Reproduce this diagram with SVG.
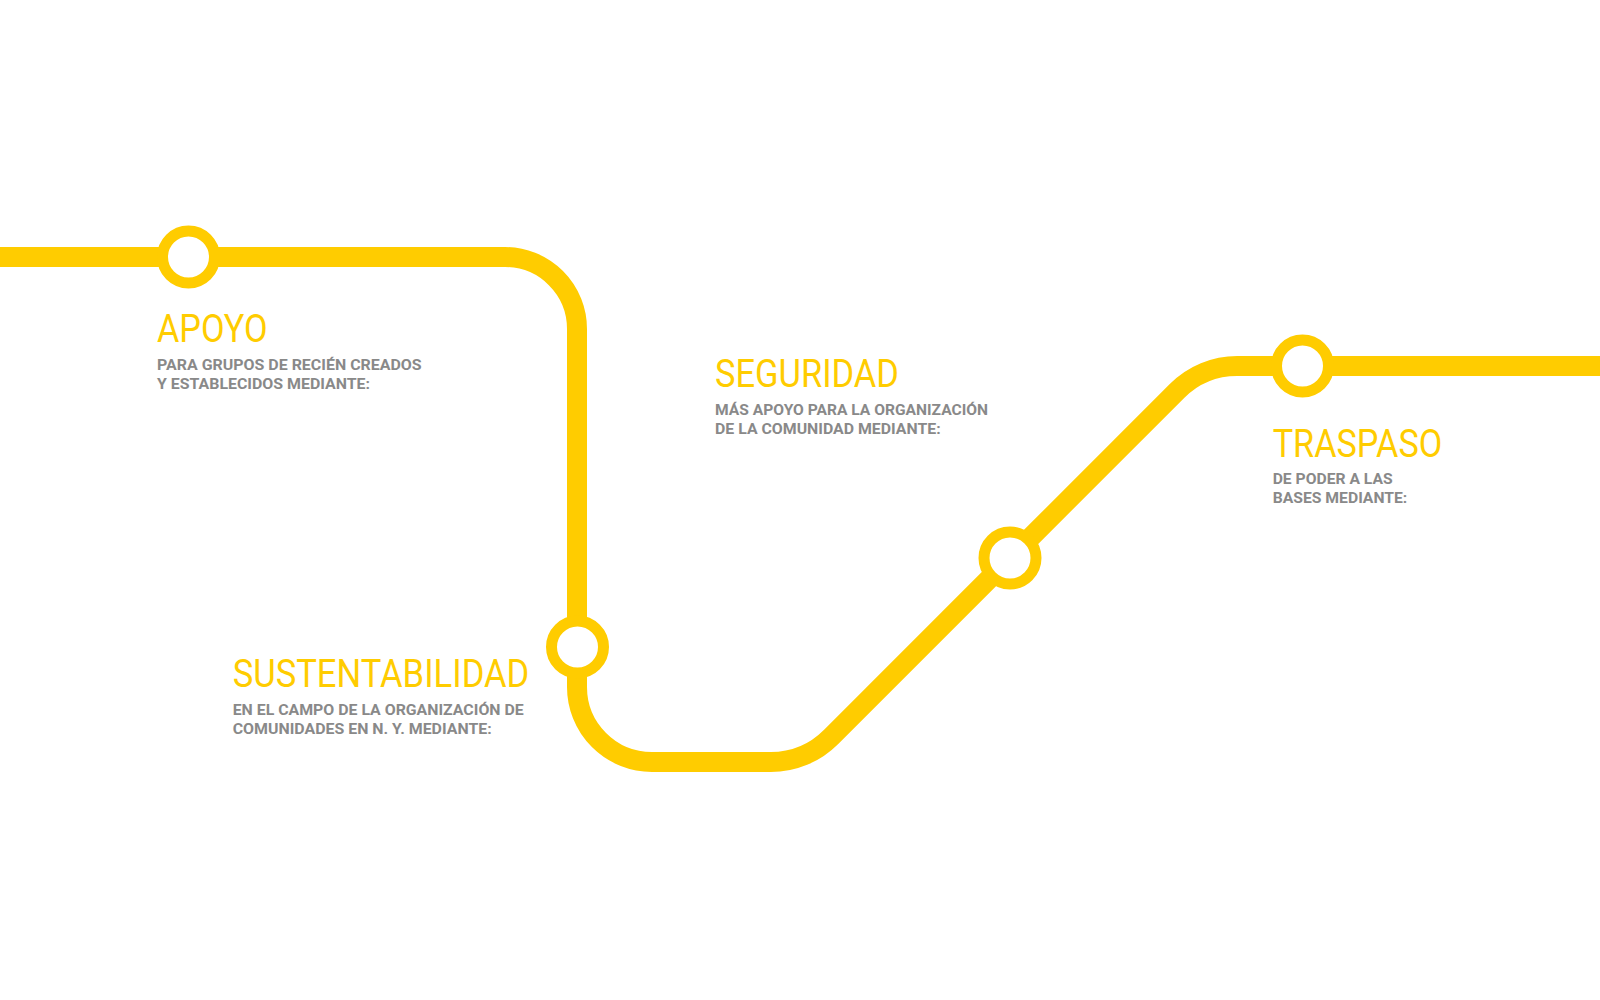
<svg xmlns="http://www.w3.org/2000/svg" width="1600" height="1000" viewBox="0 0 1600 1000">
<style>
.line{fill:none;stroke:#FFCC00;stroke-width:20}
.stop{fill:#FFFFFF;stroke:#FFCC00;stroke-width:11}
.title{font-family:Roboto,"Liberation Sans",sans-serif;font-weight:400;font-size:38.5px;fill:#FFCC00}
.sub{font-family:Roboto,"Liberation Sans",sans-serif;font-weight:700;font-size:15px;fill:#898989}
</style>
<rect width="1600" height="1000" fill="#FFFFFF"/>
<g id="connectors">
<path class="line" d="M0,257 H505 A72,72 0 0 1 577,329 V687 A75,75 0 0 0 652,762 H770.8 A85,85 0 0 0 830.9,737.1 L1177.1,390.9 A85,85 0 0 1 1237.2,366 H1600"/>
</g>
<g id="node-apoyo">
<circle class="stop" cx="188.5" cy="257" r="26"/>
<text class="title" x="157" y="341.7" textLength="110.5" lengthAdjust="spacingAndGlyphs">APOYO</text>
<text class="sub" x="157" y="370" textLength="264.7" lengthAdjust="spacingAndGlyphs">PARA GRUPOS DE RECIÉN CREADOS</text>
<text class="sub" x="157" y="389" textLength="213" lengthAdjust="spacingAndGlyphs">Y ESTABLECIDOS MEDIANTE:</text>
</g>
<g id="node-sustentabilidad">
<circle class="stop" cx="577.5" cy="647" r="26"/>
<text class="title" x="232.7" y="687.3" textLength="296.6" lengthAdjust="spacingAndGlyphs">SUSTENTABILIDAD</text>
<text class="sub" x="232.7" y="715" textLength="291" lengthAdjust="spacingAndGlyphs">EN EL CAMPO DE LA ORGANIZACIÓN DE</text>
<text class="sub" x="232.7" y="734" textLength="259" lengthAdjust="spacingAndGlyphs">COMUNIDADES EN N. Y. MEDIANTE:</text>
</g>
<g id="node-seguridad">
<circle class="stop" cx="1010" cy="558" r="26"/>
<text class="title" x="715" y="386.7" textLength="184" lengthAdjust="spacingAndGlyphs">SEGURIDAD</text>
<text class="sub" x="715" y="415" textLength="273" lengthAdjust="spacingAndGlyphs">MÁS APOYO PARA LA ORGANIZACIÓN</text>
<text class="sub" x="715" y="434" textLength="225.7" lengthAdjust="spacingAndGlyphs">DE LA COMUNIDAD MEDIANTE:</text>
</g>
<g id="node-traspaso">
<circle class="stop" cx="1302.5" cy="366" r="26"/>
<text class="title" x="1272.7" y="456.7" textLength="169.6" lengthAdjust="spacingAndGlyphs">TRASPASO</text>
<text class="sub" x="1272.7" y="484.3" textLength="120" lengthAdjust="spacingAndGlyphs">DE PODER A LAS</text>
<text class="sub" x="1272.7" y="503.3" textLength="134.6" lengthAdjust="spacingAndGlyphs">BASES MEDIANTE:</text>
</g>
</svg>
